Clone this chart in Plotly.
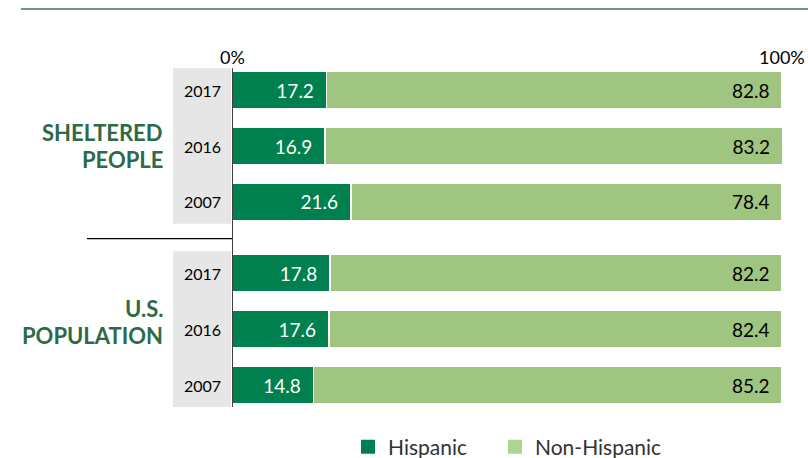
import plotly.graph_objects as go

groups = ["SHELTERED PEOPLE", "U.S. POPULATION"]
group_lines = [["SHELTERED", "PEOPLE"], ["U.S.", "POPULATION"]]
years = ["2017", "2016", "2007"]
hispanic = [[17.2, 16.9, 21.6], [17.8, 17.6, 14.8]]
non_hispanic = [[82.8, 83.2, 78.4], [82.2, 82.4, 85.2]]
axis_labels = [(0, "0%"), (100, "100%")]

DARK = "#00804F"
LIGHT = "#A0C581"
LIGHT_LEGEND = "#AED490"
LABEL_GREEN = "#2E6A4A"
FONT = "Lato"
GROUP_STEP = 3.27
XMAX = 100.15

pos, h_vals, nh_vals, yr_labels = [], [], [], []
for gi in range(len(groups)):
    for ri, yr in enumerate(years):
        pos.append(gi * GROUP_STEP + ri)
        h_vals.append(hispanic[gi][ri])
        nh_vals.append(non_hispanic[gi][ri])
        yr_labels.append(yr)

PAD = "\u00a0\u00a0"
fig = go.Figure()
fig.add_trace(go.Bar(
    y=pos, x=h_vals, orientation="h", name="Hispanic", width=0.68,
    marker=dict(color=DARK, line=dict(color="white", width=1.5)),
    text=[f"{v:.1f}{PAD}" for v in h_vals], textposition="inside",
    insidetextanchor="end", textfont=dict(color="white", size=19, family=FONT),
    hoverinfo="skip", showlegend=False,
))
fig.add_trace(go.Bar(
    y=pos, x=nh_vals, orientation="h", name="Non-Hispanic", width=0.68,
    marker=dict(color=LIGHT, line=dict(color="white", width=1.5)),
    text=[f"{v:.1f}{PAD}" for v in nh_vals], textposition="inside",
    insidetextanchor="end", textfont=dict(color="black", size=19, family=FONT),
    hoverinfo="skip", showlegend=False,
))
# legend entries (square markers), each in its own legend for exact placement
fig.add_trace(go.Scatter(x=[None], y=[None], mode="markers", name="Hispanic", legend="legend",
                         marker=dict(symbol="square", size=14, color=DARK)))
fig.add_trace(go.Scatter(x=[None], y=[None], mode="markers", name="Non-Hispanic", legend="legend2",
                         marker=dict(symbol="square", size=14, color=LIGHT_LEGEND)))

W, H = 808, 458
L, R, T, B = 232, 25, 62, 44
pw, ph = W - L - R, H - T - B

def px_x(px):
    return (px - L) / pw

def px_y(py):
    return (H - B - py) / ph

shapes = []
annotations = []
for gi in range(len(groups)):
    y0 = gi * GROUP_STEP - 0.39
    y1 = gi * GROUP_STEP + len(years) - 1 + 0.39
    shapes.append(dict(type="rect", xref="paper", yref="y", x0=px_x(173), x1=px_x(231),
                       y0=y0, y1=y1, fillcolor="#E6E6E6", line=dict(width=0), layer="below"))
shapes.append(dict(type="line", xref="x", yref="y", x0=0, x1=0, y0=-0.39,
                   y1=GROUP_STEP + len(years) - 1 + 0.39, line=dict(color="black", width=1.5)))
sep_y = (len(years) - 1 + GROUP_STEP) / 2 + 0.02
shapes.append(dict(type="line", xref="paper", yref="y", x0=px_x(87), x1=0, y0=sep_y, y1=sep_y,
                   line=dict(color="black", width=1.2)))
shapes.append(dict(type="line", xref="paper", yref="paper", x0=px_x(21), x1=px_x(808),
                   y0=px_y(9), y1=px_y(9), line=dict(color="#3F7252", width=1.3)))

for p, yr in zip(pos, yr_labels):
    annotations.append(dict(x=px_x(202), y=p, xref="paper", yref="y", text=yr, showarrow=False,
                            font=dict(size=16, color="black", family=FONT), xanchor="center"))

for gi, lines in enumerate(group_lines):
    cy = gi * GROUP_STEP + 1 - (0.12 if gi == 1 else 0)
    for li, ln in enumerate(lines):
        annotations.append(dict(x=px_x(165), y=cy, xref="paper", yref="y", text=f"<b>{ln}</b>",
                                showarrow=False, xanchor="right", yshift=13.5 if li == 0 else -13.5,
                                font=dict(size=22, color=LABEL_GREEN, family=FONT)))

for xv, lab in axis_labels:
    annotations.append(dict(x=xv, y=px_y(57), xref="x", yref="paper", text=lab, showarrow=False,
                            xanchor="center", yanchor="middle",
                            font=dict(size=18, color="black", family=FONT)))

legend_common = dict(orientation="h", yanchor="middle", xanchor="left",
                     font=dict(size=21, color="#333333", family=FONT),
                     bgcolor="rgba(0,0,0,0)")

fig.update_layout(
    width=W, height=H, margin=dict(l=L, r=R, t=T, b=B, autoexpand=False),
    paper_bgcolor="white", plot_bgcolor="white",
    barmode="stack",
    xaxis=dict(range=[0, XMAX], visible=False, fixedrange=True),
    yaxis=dict(range=[5.786, -0.5], visible=False, fixedrange=True),
    showlegend=True,
    legend=dict(x=px_x(348), y=px_y(447), **legend_common),
    legend2=dict(x=px_x(495), y=px_y(447), **legend_common),
    shapes=shapes, annotations=annotations,
)

fig.write_html("out.html", post_script="document.body.style.margin='0';",
               config={"displayModeBar": False})
